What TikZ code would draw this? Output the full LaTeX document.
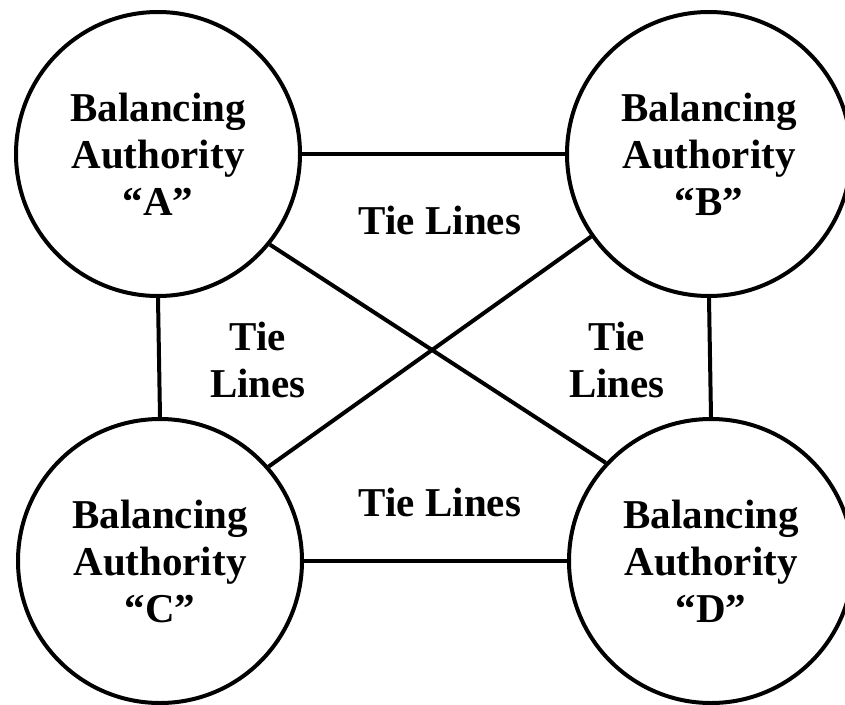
\documentclass[tikz,border=0pt]{standalone}
\usepackage{fontspec}
\setmainfont{Liberation Serif}
\begin{document}
\begin{tikzpicture}[x=1pt,y=-1pt,
  ba/.style={draw,circle,line width=4pt,minimum size=284pt,inner sep=0pt,
    align=center,font=\fontsize{41}{47}\selectfont\bfseries},
  tie/.style={align=center,font=\fontsize{41}{47}\selectfont\bfseries},
  link/.style={line width=4pt}]
\useasboundingbox (0,0) rectangle (845,704);
\node[ba] (A) at (158,154) {Balancing\\Authority\\“A”};
\node[ba] (B) at (709,154) {Balancing\\Authority\\“B”};
\node[ba] (C) at (160,561) {Balancing\\Authority\\“C”};
\node[ba] (D) at (711,561) {Balancing\\Authority\\“D”};
\draw[link] (A.east) -- (B.west);
\draw[link] (C.east) -- (D.west);
\draw[link] (A.south) -- (C.north);
\draw[link] (B.south) -- (D.north);
\draw[link] (A.-39) -- (D.137);
\draw[link] (C.41) -- (B.215);
\node[tie] (t1) at (440,220) {Tie Lines};
\node[tie] (t2) at (440,502) {Tie Lines};
\node[tie] (t3) at (258,360) {Tie\\Lines};
\node[tie] (t4) at (617,360) {Tie\\Lines};
\end{tikzpicture}
\end{document}
